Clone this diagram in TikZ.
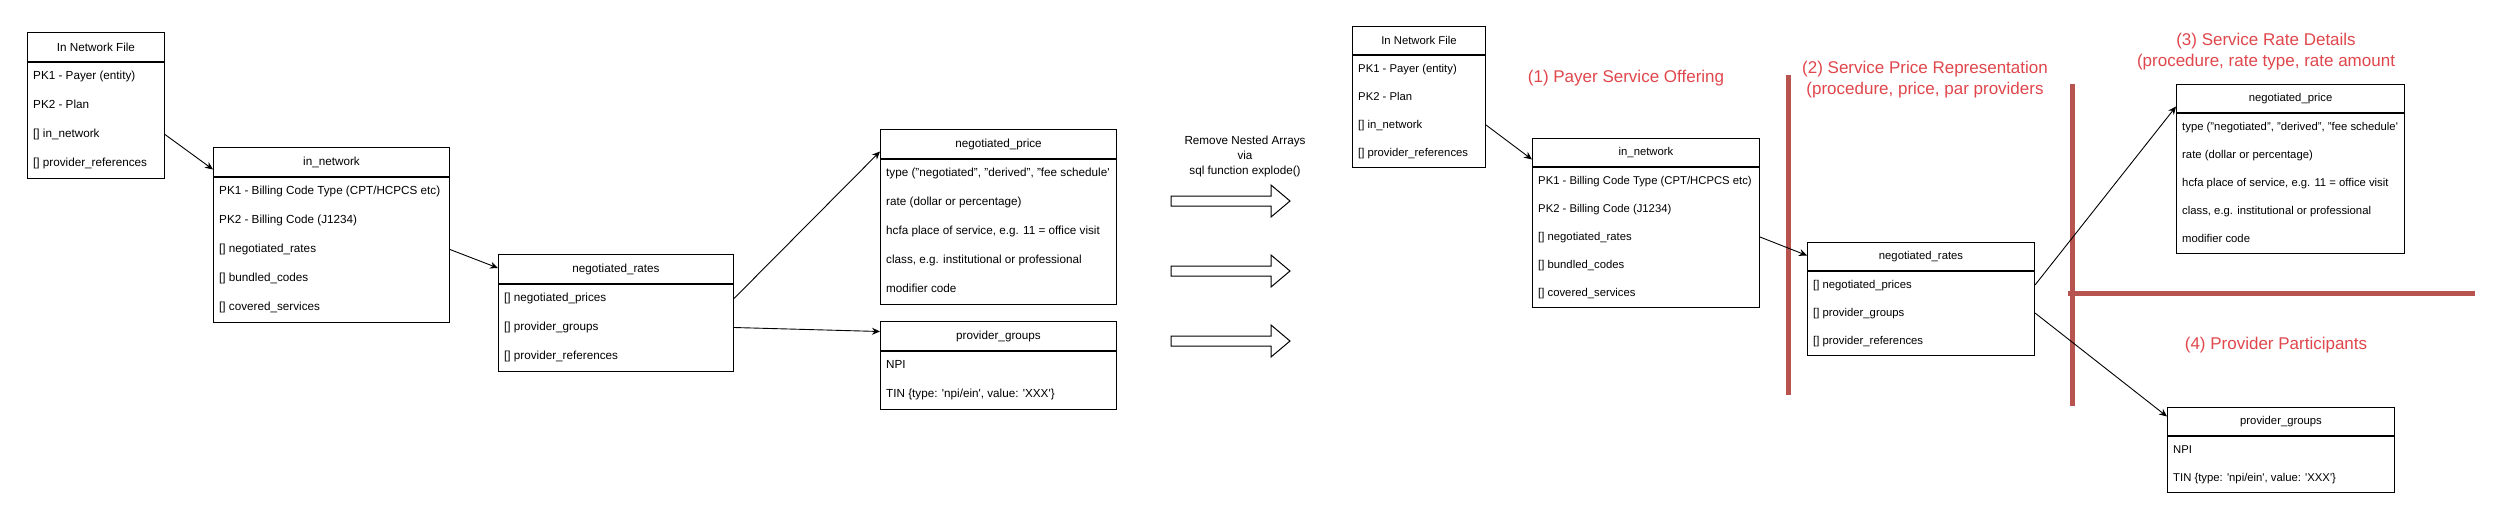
\documentclass[tikz,border=0pt]{standalone}
\usepackage{fontspec}
\setmainfont{Liberation Sans}
\usetikzlibrary{calc,arrows.meta}
\definecolor{zonered}{HTML}{B85450}
\definecolor{labelred}{HTML}{E0474C}
\newcommand\sq{\textquotesingle}
\tikzset{
 erhead/.style={draw=black, line width=1pt, fill=white, inner sep=0pt, align=center},
 erbody/.style={draw=black, line width=1pt, fill=white, inner sep=0pt},
 errow/.style={inner sep=0pt, anchor=west, text height=8.4pt, text depth=2.4pt},
 conn/.style={draw=black, line width=0.9pt, -{Stealth[length=8pt,width=7pt]}},
 barrow/.style={draw=black, line width=1pt, fill=white},
 zone/.style={draw=zonered, line width=5pt},
 zonelabel/.style={text=labelred, font=\fontsize{17}{21}\selectfont, align=center, inner sep=0pt},
 midtext/.style={font=\fontsize{11.7}{15}\selectfont, align=center, inner sep=0pt}
}
% #1 name, #2 x, #3 y, #4 width, #5 row height, #6 rows, #7 title, #8 row list, #9 font size
\newcommand\erbox[9]{%
 \node[erhead, minimum width=#4, minimum height=#5, anchor=north west, font=\fontsize{#9}{#9}\selectfont] (#1) at (#2,#3) {#7};
 \node[erbody, minimum width=#4, minimum height={#6*#5}, anchor=north west] (#1b) at (#1.south west) {};
 \foreach \rt [count=\ri] in {#8} {
   \node[errow, font=\fontsize{#9}{#9}\selectfont] (#1-\ri) at ($(#1b.north west)+(6,{(\ri-0.5)*#5})$) {\rt};
 }%
}
\newcommand\blockarrow[2]{%
 \draw[barrow] (#1,#2-5) -- (#1+100,#2-5) -- (#1+100,#2-16) -- (#1+119,#2) -- (#1+100,#2+16) -- (#1+100,#2+5) -- (#1,#2+5) -- cycle;}
\begin{document}
\begin{tikzpicture}[x=1pt,y=-1pt]
\fill[white] (0,0) rectangle (2499,531);
\useasboundingbox (0,0) rectangle (2499,531);

% red zone lines
\draw[zone] (1788,75) -- (1788,395);
\draw[zone] (2072,84) -- (2072,406);
\draw[zone] (2068,293) -- (2475,293);

% ---------- left half ----------
\erbox{T1}{27}{32}{137}{29}{4}{In Network File}{{PK1 - Payer (entity)},{PK2 - Plan},{[] in\_network},{[] provider\_references}}{11.7}
\erbox{T2}{213}{147}{236}{29}{5}{in\_network}{{PK1 - Billing Code Type (CPT/HCPCS etc)},{PK2 - Billing Code (J1234)},{[] negotiated\_rates},{[] bundled\_codes},{[] covered\_services}}{11.7}
\erbox{T3}{498}{254}{235}{29}{3}{negotiated\_rates}{{[] negotiated\_prices},{[] provider\_groups},{[] provider\_references}}{11.7}
\erbox{T4}{880}{129}{236}{29}{5}{negotiated\_price}{{type ("negotiated", "derived", "fee schedule\sq},{rate (dollar or percentage)},{hcfa place of service, e.g. 11 = office visit},{class, e.g. institutional or professional},{modifier code}}{11.7}
\erbox{T5}{880}{321}{236}{29}{2}{provider\_groups}{{NPI},{TIN \{type: \sq npi/ein\sq, value: \sq XXX\sq\}}}{11.7}

\draw[conn] (T1b.east |- T1-3) -- ($(T2.west)+(0,7.5)$);
\draw[conn] (T2b.east |- T2-3) -- ($(T3.west)+(0,-1)$);
\draw[conn] (T3b.east |- T3-1) -- ($(T4.west)+(0,7.5)$);
\draw[conn] (T3b.east |- T3-2) -- ($(T5.west)+(0,-4.5)$);

% ---------- middle ----------
\node[midtext] (note) at (1245,156) {Remove Nested Arrays\\via\\sql function explode()};
\blockarrow{1171}{201}
\blockarrow{1171}{271}
\blockarrow{1171}{341}

% ---------- right half ----------
\erbox{R1}{1352}{26}{133}{28}{4}{In Network File}{{PK1 - Payer (entity)},{PK2 - Plan},{[] in\_network},{[] provider\_references}}{11.3}
\erbox{R2}{1532}{138}{227}{28}{5}{in\_network}{{PK1 - Billing Code Type (CPT/HCPCS etc)},{PK2 - Billing Code (J1234)},{[] negotiated\_rates},{[] bundled\_codes},{[] covered\_services}}{11.3}
\erbox{R3}{1807}{242}{227}{28}{3}{negotiated\_rates}{{[] negotiated\_prices},{[] provider\_groups},{[] provider\_references}}{11.3}
\erbox{R4}{2176}{84}{228}{28}{5}{negotiated\_price}{{type ("negotiated", "derived", "fee schedule\sq},{rate (dollar or percentage)},{hcfa place of service, e.g. 11 = office visit},{class, e.g. institutional or professional},{modifier code}}{11.3}
\erbox{R5}{2167}{407}{227}{28}{2}{provider\_groups}{{NPI},{TIN \{type: \sq npi/ein\sq, value: \sq XXX\sq\}}}{11.3}

\draw[conn] (R1b.east |- R1-3) -- ($(R2.west)+(0,7)$);
\draw[conn] (R2b.east |- R2-3) -- ($(R3.west)+(0,-1)$);
\draw[conn] (R3b.east |- R3-1) -- ($(R4.west)+(0,8)$);
\draw[conn] (R3b.east |- R3-2) -- ($(R5.west)+(0,-5)$);

% zone labels
\node[zonelabel] (lab1) at (1626,78) {(1) Payer Service Offering};
\node[zonelabel] (lab2) at (1925,79.5) {(2) Service Price Representation\\(procedure, price, par providers};
\node[zonelabel] (lab3) at (2266,51.5) {(3) Service Rate Details\\(procedure, rate type, rate amount};
\node[zonelabel] (lab4) at (2276,345) {(4) Provider Participants};
\end{tikzpicture}
\end{document}
